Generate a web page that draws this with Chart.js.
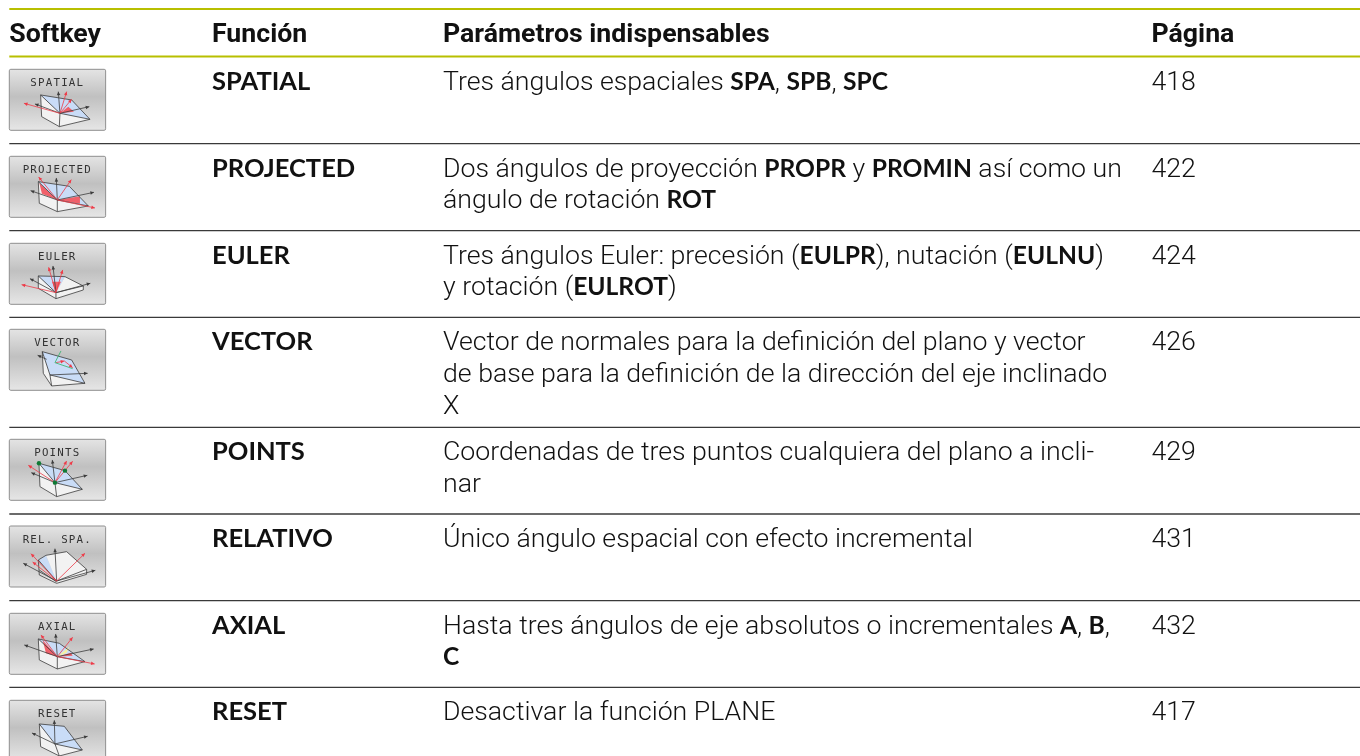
<!DOCTYPE html>
<html lang="es">
<head>
<meta charset="utf-8">
<title>Softkeys PLANE</title>
<style>
  html, body { margin: 0; padding: 0; background: #fff; }
  canvas { display: block; }
</style>
</head>
<body>
<canvas id="tabla" width="1360" height="756"></canvas>
<script src="https://cdn.jsdelivr.net/npm/chart.js@4"></script>
<script>
// Contenido de la tabla
const encabezados = ['Softkey', 'Función', 'Parámetros indispensables', 'Página'];
const teclas = ['SPATIAL', 'PROJECTED', 'EULER', 'VECTOR', 'POINTS', 'REL. SPA.', 'AXIAL', 'RESET'];
const funciones = ['SPATIAL', 'PROJECTED', 'EULER', 'VECTOR', 'POINTS', 'RELATIVO', 'AXIAL', 'RESET'];
// Lo que va entre * se escribe en negrita
const parametros = [
  ['Tres ángulos espaciales *SPA*, *SPB*, *SPC*'],
  ['Dos ángulos de proyección *PROPR* y *PROMIN* así como un', 'ángulo de rotación *ROT*'],
  ['Tres ángulos Euler: precesión (*EULPR*), nutación (*EULNU*)', 'y rotación (*EULROT*)'],
  ['Vector de normales para la definición del plano y vector', 'de base para la definición de la dirección del eje inclinado', 'X'],
  ['Coordenadas de tres puntos cualquiera del plano a incli-', 'nar'],
  ['Único ángulo espacial con efecto incremental'],
  ['Hasta tres ángulos de eje absolutos o incrementales *A*, *B*,', '*C*'],
  ['Desactivar la función PLANE']
];
const paginas = ['418', '422', '424', '426', '429', '431', '432', '417'];

// Maquetación, en píxeles de la imagen
const colX = [9.3, 212, 443, 1151.5];
const lineasVerdes = [9, 56.5];
const lineasFila = [143.7, 230.7, 317.3, 427.3, 514, 600.7, 687.3];
const filaArriba = [56.5, 143.7, 230.7, 317.3, 427.3, 514, 600.7, 687.3];
const teclaArriba = [69.3, 156.3, 243.3, 329.3, 439.3, 526, 613.3, 700.3];
const altoLinea = 31.7;

// Dibujitos de las softkeys, en tercios de píxel desde la esquina de la tecla
const AZUL = '#c9dcf7', BLANCO = '#f2f2f2', ROJO = '#f0606a', AMAR = '#f7f0a0', OSC = '#3c3c3c', ROJOL = '#ee3b48', VERDE = '#2fb36a';
const dibujos = [
  { // SPATIAL
    caras: [[BLANCO, [94,77,152,132,150,172,97,142]], [BLANCO, [152,132,242,150,150,172]], [AZUL, [94,77,187,92,242,150,152,132]], [ROJO, [152,132,177,112,194,127]]],
    bordes: [[94,77,152,132,150,172,97,142,94,77], [94,77,187,92,242,150,150,172], [152,132,242,150]],
    ejes: [[152,132,147,67], [152,132,240,112], [152,132,77,104]],
    rojos: [[152,132,44,102], [152,132,172,67], [152,132,187,90]]
  },
  { // PROJECTED
    caras: [[BLANCO, [87,76,144,131,144,166,90,141]], [BLANCO, [144,131,237,149,144,166]], [AZUL, [87,76,180,90,237,149,144,131]], [ROJO, [90,80,144,131,98,112]], [ROJO, [144,131,212,120,212,142]]],
    bordes: [[87,76,144,131,144,166,90,141,87,76], [87,76,180,90,237,149,144,166], [144,131,237,149]],
    ejes: [[144,131,141,65], [144,131,254,108], [144,131,64,103]],
    rojos: [[144,131,88,62], [144,131,186,70], [144,131,257,155]]
  },
  { // EULER
    caras: [[BLANCO, [87,98,140,148,140,166,87,135]], [BLANCO, [167,100,222,128,140,148]], [BLANCO, [140,148,222,128,222,140,140,166]], [AZUL, [87,98,167,100,140,148]], [ROJO, [140,148,128,115,155,115]]],
    bordes: [[87,98,140,148,140,166,87,135,87,98], [87,98,167,100,222,128,222,140,140,166], [140,148,222,128]],
    ejes: [[140,148,131,68], [140,148,243,120], [140,148,62,106]],
    rojos: [[140,148,37,124], [140,148,118,72], [140,148,160,80]]
  },
  { // VECTOR
    caras: [[BLANCO, [99,67,122,137,127,170,102,132]], [BLANCO, [122,137,227,162,127,170]], [AZUL, [99,67,187,92,227,162,122,137]]],
    bordes: [[99,67,122,137,127,170,102,132,99,67], [99,67,187,92,227,162,127,170], [122,137,227,162]],
    ejes: [[122,137,235,132], [112,90,85,78]],
    rojos: [[140,100,165,95], [165,95,190,115]],
    verdes: [[155,65,137,100], [137,100,190,118]]
  },
  { // POINTS
    caras: [[BLANCO, [89,72,137,130,142,172,92,142]], [BLANCO, [137,130,219,150,142,172]], [AZUL, [89,72,167,94,219,150,137,130]]],
    bordes: [[89,72,137,130,142,172,92,142,89,72], [89,72,167,94,219,150,142,172], [137,130,219,150]],
    ejes: [[137,130,129,62], [137,130,234,108], [137,130,66,100]],
    rojos: [[137,130,57,78], [137,130,172,65], [137,130,190,66]],
    puntos: [[89,72], [167,94], [137,130]]
  },
  { // REL. SPA.
    caras: [[BLANCO, [90,147,142,165,232,130,232,145,142,172]], [AZUL, [87,102,110,88,142,165]], [BLANCO, [110,88,172,77,232,130,142,165]]],
    bordes: [[87,102,110,88,172,77,232,130,142,165,87,102], [87,102,90,147,142,172,232,145,232,130], [90,132,142,168]],
    ejes: [[142,165,137,68], [142,165,258,133], [142,165,42,112]],
    rojos: [[142,165,65,83], [142,165,70,108], [142,165,227,82]]
  },
  { // AXIAL
    caras: [[BLANCO, [87,77,144,130,144,167,90,140]], [BLANCO, [144,130,227,145,144,167]], [AZUL, [87,77,150,90,227,145,144,130]], [ROJO, [100,80,144,130,110,120]], [ROJO, [144,130,185,118,190,127]], [AMAR, [144,130,180,100,172,118]]],
    bordes: [[87,77,144,130,144,167,90,140,87,77], [87,77,150,90,227,145,144,167], [144,130,227,145]],
    ejes: [[144,130,139,62], [144,130,253,107], [144,130,45,95]],
    rojos: [[144,130,256,152], [144,130,95,65], [144,130,190,72]]
  },
  { // RESET
    caras: [[BLANCO, [90,71,137,131,150,167,94,139]], [BLANCO, [137,131,219,149,150,167]], [AZUL, [90,71,165,78,219,149,137,131]]],
    bordes: [[90,71,137,131,150,167,94,139,90,71], [90,71,165,78,219,149,150,167], [137,131,219,149]],
    ejes: [[137,131,135,60], [137,131,235,108], [137,131,68,98]],
    rojos: []
  }
];

const fuenteEnc = '700 26.7px Roboto';
const fuenteLigera = '300 26.7px Roboto';
const fuenteNegrita = '700 24.6px Lato';
const fuenteFuncion = '700 25.5px Lato';

// Escribe una línea alternando ligera y negrita
function escribirLinea(ctx, texto, x, y) {
  texto.split('*').forEach((trozo, i) => {
    ctx.font = i % 2 ? fuenteNegrita : fuenteLigera;
    ctx.fillText(trozo, x, y);
    x += ctx.measureText(trozo).width;
  });
}

function dibujarTecla(ctx, sx, sy, i) {
  const px = v => sx.getPixelForValue(colX[0] + v / 3);
  const py = v => sy.getPixelForValue(teclaArriba[i] + v / 3);
  const x0 = px(0), y0 = py(0), ancho = px(289) - x0, alto = py(183) - y0;

  const grad = ctx.createLinearGradient(0, y0, 0, y0 + alto);
  grad.addColorStop(0, '#e4e4e4');
  grad.addColorStop(0.45, '#c0c0c0');
  grad.addColorStop(1, '#e6e6e6');
  ctx.fillStyle = grad;
  ctx.strokeStyle = '#8f8f8f';
  ctx.lineWidth = 1;
  ctx.beginPath();
  ctx.roundRect(x0, y0, ancho, alto, 1.5);
  ctx.fill();
  ctx.stroke();

  ctx.save();
  ctx.filter = 'blur(0.3px)';
  ctx.fillStyle = '#333';
  ctx.font = '10.8px "DejaVu Sans Mono"';
  ctx.letterSpacing = '1.2px';
  ctx.textAlign = 'center';
  ctx.textBaseline = 'alphabetic';
  ctx.fillText(teclas[i], px(144), y0 + 17);
  ctx.letterSpacing = '0px';

  const d = dibujos[i];
  const traza = pts => {
    ctx.beginPath();
    for (let k = 0; k < pts.length; k += 2) {
      if (k === 0) ctx.moveTo(px(pts[k]), py(pts[k + 1]));
      else ctx.lineTo(px(pts[k]), py(pts[k + 1]));
    }
  };
  const flecha = (p, color) => {
    traza(p);
    ctx.strokeStyle = color;
    ctx.stroke();
    const a = Math.atan2(py(p[3]) - py(p[1]), px(p[2]) - px(p[0]));
    ctx.fillStyle = color;
    ctx.beginPath();
    ctx.moveTo(px(p[2]), py(p[3]));
    ctx.lineTo(px(p[2]) - 4 * Math.cos(a - 0.45), py(p[3]) - 4 * Math.sin(a - 0.45));
    ctx.lineTo(px(p[2]) - 4 * Math.cos(a + 0.45), py(p[3]) - 4 * Math.sin(a + 0.45));
    ctx.fill();
  };

  d.caras.forEach(([color, pts]) => {
    traza(pts);
    ctx.closePath();
    ctx.fillStyle = color;
    ctx.fill();
  });
  ctx.lineWidth = 0.8;
  ctx.strokeStyle = OSC;
  d.bordes.forEach(pts => { traza(pts); ctx.stroke(); });
  d.ejes.forEach(p => flecha(p, OSC));
  d.rojos.forEach(p => flecha(p, ROJOL));
  (d.verdes || []).forEach(p => { traza(p); ctx.strokeStyle = VERDE; ctx.stroke(); });
  (d.puntos || []).forEach(p => {
    ctx.fillStyle = '#0f7a35';
    ctx.beginPath();
    ctx.arc(px(p[0]), py(p[1]), 2.2, 0, Math.PI * 2);
    ctx.fill();
  });
  ctx.restore();
}

// Plugin que escribe los textos y las teclas usando las escalas del gráfico
const pluginTabla = {
  id: 'pluginTabla',
  afterDatasetsDraw(chart) {
    const ctx = chart.ctx;
    const sx = chart.scales.x, sy = chart.scales.y;
    ctx.save();
    ctx.textBaseline = 'alphabetic';
    ctx.fillStyle = '#111';

    ctx.font = fuenteEnc;
    encabezados.forEach((t, c) => ctx.fillText(t, sx.getPixelForValue(colX[c]), sy.getPixelForValue(41.7)));

    filaArriba.forEach((arriba, f) => {
      const base = arriba + 33;
      ctx.fillStyle = '#111';
      ctx.font = fuenteFuncion;
      ctx.fillText(funciones[f], sx.getPixelForValue(colX[1]), sy.getPixelForValue(base));
      parametros[f].forEach((linea, n) => {
        escribirLinea(ctx, linea, sx.getPixelForValue(colX[2]), sy.getPixelForValue(base + n * altoLinea));
      });
      ctx.font = fuenteLigera;
      ctx.fillText(paginas[f], sx.getPixelForValue(colX[3]), sy.getPixelForValue(base));
      dibujarTecla(ctx, sx, sy, f);
      ctx.textAlign = 'left';
    });
    ctx.restore();
  }
};

document.addEventListener('DOMContentLoaded', function() {
  const regla = (y, color, grosor) => ({
    data: [{ x: colX[0], y: y }, { x: 1360, y: y }],
    borderColor: color,
    borderWidth: grosor,
    pointRadius: 0,
    showLine: true
  });

  new Chart(document.getElementById('tabla').getContext('2d'), {
    type: 'scatter',
    data: {
      datasets: [
        ...lineasVerdes.map(y => regla(y, '#b8bf00', 2)),
        ...lineasFila.map(y => regla(y, '#3a3a3a', 1.3))
      ]
    },
    options: {
      responsive: false,
      animation: false,
      layout: { padding: 0 },
      plugins: { legend: { display: false }, tooltip: { enabled: false } },
      scales: {
        x: { type: 'linear', display: false, min: 0, max: 1360 },
        y: { type: 'linear', display: false, min: 0, max: 756, reverse: true }
      }
    },
    plugins: [pluginTabla]
  });
});
</script>
</body>
</html>
